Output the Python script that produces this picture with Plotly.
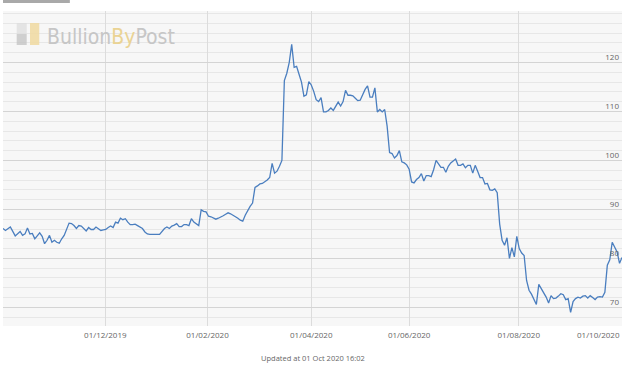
import plotly.graph_objects as go

# ---- data ----
trade_dates = [
    "2019-10-03", "2019-10-04", "2019-10-08", "2019-10-10", "2019-10-14", "2019-10-15", "2019-10-16",
    "2019-10-17", "2019-10-18", "2019-10-21", "2019-10-22", "2019-10-24", "2019-10-25", "2019-10-28",
    "2019-10-29", "2019-10-30", "2019-10-31",
    "2019-11-01", "2019-11-04", "2019-11-05", "2019-11-06", "2019-11-07", "2019-11-11", "2019-11-12",
    "2019-11-13", "2019-11-14", "2019-11-15", "2019-11-18", "2019-11-20", "2019-11-21", "2019-11-22",
    "2019-11-25", "2019-11-26", "2019-11-27", "2019-11-28", "2019-11-29",
    "2019-12-02", "2019-12-03", "2019-12-04", "2019-12-05", "2019-12-06", "2019-12-09", "2019-12-10",
    "2019-12-11", "2019-12-12", "2019-12-13", "2019-12-16", "2019-12-17", "2019-12-18", "2019-12-19",
    "2019-12-20", "2019-12-23", "2019-12-24", "2019-12-27", "2019-12-30", "2019-12-31",
    "2020-01-02", "2020-01-03", "2020-01-06", "2020-01-08", "2020-01-09", "2020-01-10", "2020-01-13",
    "2020-01-14", "2020-01-15", "2020-01-16", "2020-01-17", "2020-01-20", "2020-01-21", "2020-01-22",
    "2020-01-23", "2020-01-24", "2020-01-27", "2020-01-28", "2020-01-29", "2020-01-30", "2020-01-31",
    "2020-02-03", "2020-02-04", "2020-02-05", "2020-02-06", "2020-02-07", "2020-02-10", "2020-02-11",
    "2020-02-12", "2020-02-13", "2020-02-14", "2020-02-17", "2020-02-18", "2020-02-19", "2020-02-20",
    "2020-02-21", "2020-02-24", "2020-02-25", "2020-02-26", "2020-02-27", "2020-02-28",
    "2020-03-02", "2020-03-03", "2020-03-04", "2020-03-05", "2020-03-06", "2020-03-09", "2020-03-10",
    "2020-03-11", "2020-03-12", "2020-03-13", "2020-03-16", "2020-03-17", "2020-03-18", "2020-03-19",
    "2020-03-20", "2020-03-23", "2020-03-24", "2020-03-25", "2020-03-26", "2020-03-27", "2020-03-30",
    "2020-03-31",
    "2020-04-01", "2020-04-02", "2020-04-03", "2020-04-06", "2020-04-07", "2020-04-08", "2020-04-09",
    "2020-04-14", "2020-04-15", "2020-04-16", "2020-04-17", "2020-04-20", "2020-04-21", "2020-04-22",
    "2020-04-23", "2020-04-24", "2020-04-27", "2020-04-28", "2020-04-29", "2020-04-30",
    "2020-05-01", "2020-05-04", "2020-05-05", "2020-05-06", "2020-05-07", "2020-05-08", "2020-05-11",
    "2020-05-12", "2020-05-13", "2020-05-14", "2020-05-15", "2020-05-18", "2020-05-19", "2020-05-20",
    "2020-05-21", "2020-05-22", "2020-05-26", "2020-05-27", "2020-05-28", "2020-05-29",
    "2020-06-01", "2020-06-02", "2020-06-03", "2020-06-04", "2020-06-05", "2020-06-08", "2020-06-09",
    "2020-06-10", "2020-06-11", "2020-06-12", "2020-06-15", "2020-06-16", "2020-06-17", "2020-06-18",
    "2020-06-19", "2020-06-22", "2020-06-23", "2020-06-24", "2020-06-25", "2020-06-26", "2020-06-29",
    "2020-06-30",
    "2020-07-01", "2020-07-02", "2020-07-03", "2020-07-06", "2020-07-07", "2020-07-08", "2020-07-09",
    "2020-07-10", "2020-07-13", "2020-07-14", "2020-07-15", "2020-07-16", "2020-07-17", "2020-07-20",
    "2020-07-21", "2020-07-22", "2020-07-23", "2020-07-24", "2020-07-27", "2020-07-28", "2020-07-29",
    "2020-07-30", "2020-07-31",
    "2020-08-03", "2020-08-04", "2020-08-05", "2020-08-06", "2020-08-07", "2020-08-10", "2020-08-11",
    "2020-08-12", "2020-08-13", "2020-08-14", "2020-08-17", "2020-08-18", "2020-08-19", "2020-08-20",
    "2020-08-21", "2020-08-24", "2020-08-25", "2020-08-26", "2020-08-27", "2020-08-28",
    "2020-09-01", "2020-09-02", "2020-09-03", "2020-09-04", "2020-09-07", "2020-09-08", "2020-09-09",
    "2020-09-10", "2020-09-11", "2020-09-14", "2020-09-15", "2020-09-16", "2020-09-17", "2020-09-18",
    "2020-09-21", "2020-09-22", "2020-09-23", "2020-09-24", "2020-09-25", "2020-09-28", "2020-09-29",
    "2020-09-30",
    "2020-10-01",
]

price = [
    86.1, 85.7, 86.4, 84.6, 85.5, 84.7, 85.0, 86.2, 85.0, 85.1, 84.0, 85.2, 84.5, 83.0, 83.7, 84.7, 83.3,
    83.7, 83.3, 83.1, 84.0, 84.7, 87.2, 87.1, 86.7, 86.1, 86.7, 86.6, 85.6, 86.3, 85.9, 85.9, 86.4, 86.1,
    85.7, 85.8,
    85.9, 86.3, 86.6, 86.3, 87.4, 87.2, 88.2, 87.9, 88.1, 87.4, 86.9, 86.9, 87.0, 86.7, 86.4, 86.1, 85.4,
    85.0, 84.9, 84.9,
    84.9, 84.9, 84.9, 86.1, 86.4, 86.1, 86.6, 86.8, 87.1, 86.5, 86.5, 86.9, 86.9, 86.7, 88.1, 87.4, 87.0,
    86.7, 89.9, 89.6, 89.5,
    88.6, 88.5, 88.3, 88.0, 88.2, 88.4, 88.7, 89.0, 89.3, 89.1, 88.8, 88.6, 88.2, 87.8, 87.6, 88.8, 89.8,
    90.6, 91.3, 94.5,
    94.8, 95.2, 95.3, 95.6, 96.0, 96.5, 99.4, 97.4, 97.8, 98.8, 100.0, 116.3, 117.8, 120.0, 123.7, 119.0,
    119.2, 117.6, 116.0, 113.1, 113.4, 116.1,
    115.4, 114.1, 112.4, 112.0, 112.8, 109.9, 109.9, 110.2, 110.7, 110.2, 111.1, 111.9, 111.1, 112.0,
    114.3, 113.3, 113.3, 113.2, 112.7, 112.2,
    112.3, 113.5, 114.5, 115.2, 112.9, 112.9, 114.8, 109.9, 110.4, 109.9, 110.4, 107.0, 101.6, 101.4,
    100.5, 101.0, 102.0, 99.7, 99.5, 99.1,
    98.2, 95.6, 95.4, 96.1, 96.5, 97.3, 95.8, 96.9, 96.9, 96.7, 98.1, 100.0, 99.3, 98.6, 98.6, 97.6,
    98.8, 99.5, 99.9, 100.3, 99.0, 99.0,
    99.3, 98.5, 99.0, 99.0, 97.4, 99.0, 97.8, 96.5, 96.5, 95.2, 95.3, 94.0, 93.9, 94.2, 93.4, 87.0,
    83.7, 82.7, 84.2, 80.0, 82.2, 80.3, 84.5,
    82.0, 81.1, 80.6, 75.5, 73.5, 72.7, 71.8, 70.6, 74.7, 73.8, 73.1, 72.1, 70.9, 72.4, 71.8, 71.9,
    72.3, 72.8, 72.6, 71.6,
    71.8, 69.0, 71.2, 71.8, 72.1, 71.9, 72.3, 72.4, 71.9, 72.4, 72.0, 71.6, 72.1, 72.2, 72.1, 73.1,
    78.6, 79.7, 83.3, 82.4, 81.3, 79.0,
    80.2,
]

market_holidays = ["2019-12-25", "2019-12-26", "2020-01-01", "2020-04-10", "2020-04-13",
                   "2020-05-25", "2020-08-31"]

x_tick_dates = ["2019-11-29 20:00", "2020-01-31 14:00", "2020-04-01", "2020-06-01",
                "2020-07-31 19:00", "2020-10-01"]
x_tick_labels = ["01/12/2019", "01/02/2020", "01/04/2020", "01/06/2020", "01/08/2020", ""]
last_x_label = "01/10/2020"

y_tick_values = [70, 80, 90, 100, 110, 120]
y_tick_labels = ["70", "80", "90", "100", "110", "120"]

footer_text = "Updated at 01 Oct 2020 16:02"

# ---- figure ----
fig = go.Figure()
fig.add_trace(go.Scatter(
    x=trade_dates, y=price, mode="lines",
    line=dict(color="#4a7ebf", width=1.3),
    hoverinfo="skip",
))

label_font = dict(family="Open Sans, DejaVu Sans, sans-serif", size=8, color="#666666")

fig.update_layout(
    width=640, height=372,
    margin=dict(l=3, r=18, t=11, b=46, pad=0),
    paper_bgcolor="white",
    plot_bgcolor="#f7f7f7",
    showlegend=False,
    font=label_font,
    xaxis=dict(
        type="date",
        range=["2019-10-03", "2020-10-01"],
        rangebreaks=[dict(bounds=["sat", "mon"]), dict(values=market_holidays)],
        tickmode="array", tickvals=x_tick_dates, ticktext=x_tick_labels,
        ticklabelstandoff=3,
        showgrid=True, gridcolor="#dcdcdc", gridwidth=1,
        zeroline=False, showline=False, ticks="",
        tickfont=label_font,
        fixedrange=True,
    ),
    yaxis=dict(
        side="right",
        range=[66.2, 130.5],
        tickmode="array", tickvals=y_tick_values, ticktext=y_tick_labels,
        ticklabelposition="inside",
        ticklabelshift=-5,
        showgrid=True, gridcolor="#d4d4d4", gridwidth=1,
        minor=dict(tickmode="linear", tick0=0, dtick=2, showgrid=True,
                   gridcolor="#e7e7e7", gridwidth=1),
        zeroline=False, showline=False, ticks="",
        tickfont=label_font,
        fixedrange=True,
    ),
)

# decorative top tab and logo blocks (paper coordinates)
fig.add_shape(type="rect", xref="paper", yref="paper", x0=0.0, x1=0.108, y0=1.0254, y1=1.035,
              fillcolor="#a9a9a9", line=dict(width=0), layer="above")
fig.add_shape(type="rect", xref="paper", yref="paper", x0=0.0221, x1=0.0383, y0=0.892, y1=0.927,
              fillcolor="#c4c4c4", line=dict(width=0), layer="above", opacity=0.8)
fig.add_shape(type="rect", xref="paper", yref="paper", x0=0.0221, x1=0.0383, y0=0.927, y1=0.962,
              fillcolor="#dedede", line=dict(width=0), layer="above", opacity=0.8)
fig.add_shape(type="rect", xref="paper", yref="paper", x0=0.0436, x1=0.0586, y0=0.892, y1=0.962,
              fillcolor="#f0d9a0", line=dict(width=0), layer="above", opacity=0.85)

fig.add_annotation(
    xref="paper", yref="paper", x=0.0679, y=0.917, xanchor="left", yanchor="middle",
    text="<span style='color:#c6c6c6'>Bullion</span><span style='color:#ead394'>By</span>"
         "<span style='color:#c6c6c6'>Post</span>",
    showarrow=False,
    font=dict(family="DejaVu Sans Condensed, Liberation Sans Narrow, Roboto, sans-serif",
              size=21, color="#c6c6c6"),
)

fig.add_annotation(
    xref="paper", yref="paper", x=1.0, y=-0.0265, xanchor="right", yanchor="middle",
    text=last_x_label, showarrow=False, font=label_font,
)

fig.add_annotation(
    xref="paper", yref="paper", x=0.5, y=-0.1016, xanchor="center", yanchor="middle",
    text=footer_text, showarrow=False,
    font=dict(family="Open Sans, DejaVu Sans, sans-serif", size=7.5, color="#666666"),
)

fig.write_html(
    "out.html",
    config={"displayModeBar": False},
    post_script="document.body.style.margin='0';document.body.style.padding='0';",
)
